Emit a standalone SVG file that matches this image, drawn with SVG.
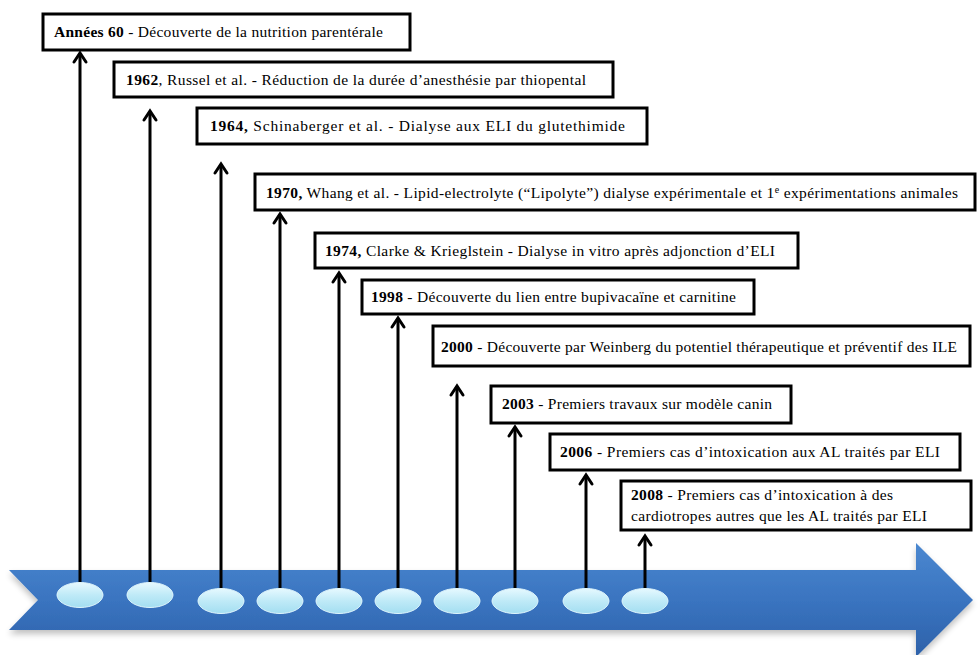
<svg xmlns="http://www.w3.org/2000/svg" width="980" height="655" viewBox="0 0 980 655">
<style>
.box{fill:#fff;stroke:#000;stroke-width:3}
.t{font-family:'Times New Roman','Liberation Serif',Tinos,serif;font-size:15.5px;fill:#000}
.b{font-weight:bold}
.dot{fill:url(#dotg);stroke:#dff6fd;stroke-width:1}
</style>
<defs>
<linearGradient id="bandg" x1="0" y1="0" x2="0" y2="1">
<stop offset="0" stop-color="#4b88d0"/>
<stop offset="0.5" stop-color="#3a74c0"/>
<stop offset="1" stop-color="#2d61a9"/>
</linearGradient>
<linearGradient id="dotg" x1="0" y1="0" x2="0" y2="1">
<stop offset="0" stop-color="#e6f9ff"/>
<stop offset="0.5" stop-color="#bfeaf7"/>
<stop offset="1" stop-color="#a3def1"/>
</linearGradient>
<filter id="sh" x="-5%" y="-20%" width="110%" height="150%">
<feGaussianBlur in="SourceAlpha" stdDeviation="3"/>
<feOffset dy="4"/>
<feComponentTransfer><feFuncA type="linear" slope="0.25"/></feComponentTransfer>
<feMerge><feMergeNode/><feMergeNode in="SourceGraphic"/></feMerge>
</filter>
</defs>
<g id="timeline">
<polygon points="9,570 916,570 916,543 973,600 916,657 916,630 9,630 38,600" fill="url(#bandg)" filter="url(#sh)"/>
</g>
<g id="connectors" stroke="#000" stroke-width="3" fill="none">
<line x1="80" y1="595" x2="80" y2="53"/>
<line x1="150" y1="595" x2="150" y2="111"/>
<line x1="221" y1="601" x2="221" y2="164"/>
<line x1="280" y1="601" x2="280" y2="214"/>
<line x1="339" y1="601" x2="339" y2="273"/>
<line x1="398" y1="601" x2="398" y2="318"/>
<line x1="457" y1="601" x2="457" y2="386"/>
<line x1="515" y1="601" x2="515" y2="427"/>
<line x1="586" y1="601" x2="586" y2="475"/>
<line x1="645" y1="601" x2="645" y2="536"/>
<g stroke-linecap="round" stroke-linejoin="miter">
<polyline points="74,62 80,53 86,62"/>
<polyline points="144,120 150,111 156,120"/>
<polyline points="215,173 221,164 227,173"/>
<polyline points="274,223 280,214 286,223"/>
<polyline points="333,282 339,273 345,282"/>
<polyline points="392,327 398,318 404,327"/>
<polyline points="451,395 457,386 463,395"/>
<polyline points="509,436 515,427 521,436"/>
<polyline points="580,484 586,475 592,484"/>
<polyline points="639,545 645,536 651,545"/>
</g>
</g>
<g id="dots">
<ellipse class="dot" cx="80" cy="595" rx="23" ry="12.5"/>
<ellipse class="dot" cx="150" cy="595" rx="23" ry="12.5"/>
<ellipse class="dot" cx="221" cy="601" rx="23" ry="12.5"/>
<ellipse class="dot" cx="280" cy="601" rx="23" ry="12.5"/>
<ellipse class="dot" cx="339" cy="601" rx="23" ry="12.5"/>
<ellipse class="dot" cx="398" cy="601" rx="23" ry="12.5"/>
<ellipse class="dot" cx="457" cy="601" rx="23" ry="12.5"/>
<ellipse class="dot" cx="515" cy="601" rx="23" ry="12.5"/>
<ellipse class="dot" cx="586" cy="601" rx="23" ry="12.5"/>
<ellipse class="dot" cx="645" cy="601" rx="23" ry="12.5"/>
</g>
<g id="ev1960">
<rect class="box" x="43" y="14" width="367" height="36"/>
<text class="t" x="54" y="37" textLength="329" lengthAdjust="spacing"><tspan class="b">Années 60</tspan> - Découverte  de la nutrition  parentérale</text>
</g>
<g id="ev1962">
<rect class="box" x="114" y="62" width="499" height="35"/>
<text class="t" x="126" y="85" textLength="460" lengthAdjust="spacing"><tspan class="b">1962</tspan>, Russel  et al.  - Réduction  de la durée d’anesthésie  par thiopental</text>
</g>
<g id="ev1964">
<rect class="box" x="197" y="108" width="450" height="36"/>
<text class="t" x="210" y="131" textLength="415" lengthAdjust="spacing"><tspan class="b">1964,</tspan> Schinaberger  et al.  - Dialyse  aux ELI  du  glutethimide</text>
</g>
<g id="ev1970">
<rect class="box" x="255" y="174" width="720" height="36"/>
<text class="t" x="266" y="198" textLength="692" lengthAdjust="spacing"><tspan class="b">1970,</tspan> Whang et al.  - Lipid-electrolyte  (“Lipolyte”)  dialyse  expérimentale  et 1<tspan font-size="10" dy="-5">e</tspan><tspan dy="5"> expérimentations  animales</tspan></text>
</g>
<g id="ev1974">
<rect class="box" x="315" y="233" width="483" height="35"/>
<text class="t" x="325" y="256" textLength="450" lengthAdjust="spacing"><tspan class="b">1974,</tspan> Clarke  &amp; Krieglstein  - Dialyse  in vitro  après adjonction  d’ELI</text>
</g>
<g id="ev1998">
<rect class="box" x="362" y="280" width="392" height="34"/>
<text class="t" x="371" y="302" textLength="365" lengthAdjust="spacing"><tspan class="b">1998</tspan> - Découverte  du lien  entre  bupivacaïne  et carnitine</text>
</g>
<g id="ev2000">
<rect class="box" x="433" y="326" width="537" height="40"/>
<text class="t" x="441" y="352" textLength="516" lengthAdjust="spacing"><tspan class="b">2000</tspan> - Découverte  par Weinberg  du potentiel  thérapeutique  et préventif  des ILE</text>
</g>
<g id="ev2003">
<rect class="box" x="491" y="386" width="300" height="37"/>
<text class="t" x="502" y="409" textLength="270" lengthAdjust="spacing"><tspan class="b">2003</tspan> - Premiers  travaux  sur modèle  canin</text>
</g>
<g id="ev2006">
<rect class="box" x="550" y="434" width="410" height="36"/>
<text class="t" x="560" y="457" textLength="380" lengthAdjust="spacing"><tspan class="b">2006</tspan> - Premiers  cas  d’intoxication  aux AL traités par ELI</text>
</g>
<g id="ev2008">
<rect class="box" x="621" y="481" width="350" height="49"/>
<text class="t" x="631" y="500" textLength="262" lengthAdjust="spacing"><tspan class="b">2008</tspan> - Premiers  cas d’intoxication  à des</text>
<text class="t" x="631" y="521" textLength="296" lengthAdjust="spacing">cardiotropes  autres  que les AL traités par ELI</text>
</g>
</svg>
